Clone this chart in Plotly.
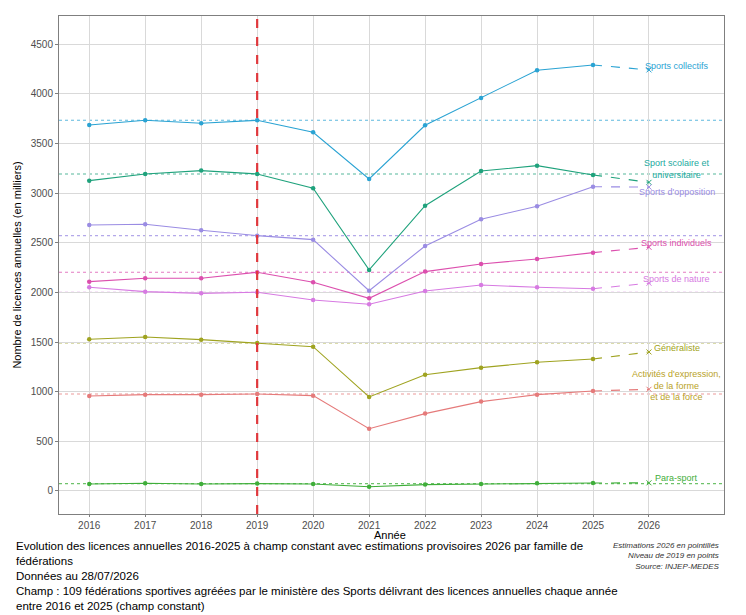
import plotly.graph_objects as go

YEARS = [2016, 2017, 2018, 2019, 2020, 2021, 2022, 2023, 2024, 2025]
EST_YEAR = 2026
REF_YEAR = 2019

# licences annuelles en milliers, 2016-2025
SPORTS_COLLECTIFS = [3686, 3733, 3703, 3733, 3612, 3142, 3683, 3958, 4237, 4290]
SPORT_SCOLAIRE = [3125, 3192, 3226, 3192, 3048, 2226, 2873, 3222, 3276, 3182]
SPORTS_OPPOSITION = [2679, 2686, 2625, 2571, 2531, 2017, 2467, 2736, 2867, 3064]
SPORTS_INDIVIDUELS = [2108, 2142, 2142, 2202, 2101, 1940, 2209, 2286, 2336, 2400]
SPORTS_NATURE = [2051, 2007, 1990, 2001, 1923, 1880, 2014, 2074, 2051, 2037]
GENERALISTE = [1528, 1551, 1524, 1490, 1453, 947, 1171, 1242, 1296, 1329]
ACTIVITES_FORME = [957, 970, 970, 977, 960, 627, 779, 900, 970, 1007]
PARA_SPORT = [70, 77, 70, 74, 70, 43, 64, 70, 77, 80]

# estimations provisoires 2026
ESTIMATIONS_2026 = {
    "Sports collectifs": 4240,
    "Sport scolaire et universitaire": 3108,
    "Sports d'opposition": 3060,
    "Sports individuels": 2454,
    "Sports de nature": 2092,
    "Généraliste": 1400,
    "Activités d'expression, de la forme et de la force": 1024,
    "Para-sport": 82,
}

SERIES = {
    "Sports collectifs": SPORTS_COLLECTIFS,
    "Sport scolaire et universitaire": SPORT_SCOLAIRE,
    "Sports d'opposition": SPORTS_OPPOSITION,
    "Sports individuels": SPORTS_INDIVIDUELS,
    "Sports de nature": SPORTS_NATURE,
    "Généraliste": GENERALISTE,
    "Activités d'expression, de la forme et de la force": ACTIVITES_FORME,
    "Para-sport": PARA_SPORT,
}

# style: line colour, label colour, label text, label y
STYLE = {
    "Sports collectifs": ("#2aa3d3", "#2aa3d3", "Sports collectifs", 4280),
    "Sport scolaire et universitaire": ("#1fa27c", "#24aaa0", "Sport scolaire et<br>universitaire", 3242),
    "Sports d'opposition": ("#9a8ce3", "#9a8ce3", "Sports d'opposition", 3010),
    "Sports individuels": ("#dc4fae", "#dc4fae", "Sports individuels", 2497),
    "Sports de nature": ("#d77ae2", "#d77ae2", "Sports de nature", 2134),
    "Généraliste": ("#9fa320", "#9fa320", "Généraliste", 1440),
    "Activités d'expression, de la forme et de la force": (
        "#e57a7a", "#b9a227", "Activités d'expression,<br>de la forme<br>et de la force", 1067),
    "Para-sport": ("#3fae3a", "#3fae3a", "Para-sport", 131),
}

FONT = "Liberation Sans, Arial, sans-serif"
CAPTION_FONT = "Liberation Sans Narrow, Liberation Sans, Arial, sans-serif"

fig = go.Figure()
shapes = []
annotations = []

for name, values in SERIES.items():
    color, label_color, label, label_y = STYLE[name]
    ref_value = values[YEARS.index(REF_YEAR)]

    # niveau 2019 en points
    shapes.append(dict(
        type="line", xref="paper", x0=0, x1=1, yref="y", y0=ref_value, y1=ref_value,
        line=dict(color=color, width=1.1, dash="dot"), opacity=0.75, layer="below",
    ))

    fig.add_trace(go.Scatter(
        x=YEARS, y=values, mode="lines+markers", name=name,
        line=dict(color=color, width=1.1),
        marker=dict(color=color, size=4.5),
        showlegend=False,
    ))
    fig.add_trace(go.Scatter(
        x=[YEARS[-1], EST_YEAR], y=[values[-1], ESTIMATIONS_2026[name]],
        mode="lines", line=dict(color=color, width=1.1, dash="dash"),
        showlegend=False,
    ))
    fig.add_trace(go.Scatter(
        x=[EST_YEAR], y=[ESTIMATIONS_2026[name]], mode="markers",
        marker=dict(color=color, size=5, symbol="x-thin", line=dict(color=color, width=1)),
        showlegend=False,
    ))

    annotations.append(dict(
        x=EST_YEAR + 0.5, y=label_y, xref="x", yref="y", text=label,
        showarrow=False, font=dict(family=FONT, size=9, color=label_color),
        align="center",
    ))

shapes.append(dict(
    type="line", xref="x", x0=REF_YEAR, x1=REF_YEAR, yref="paper", y0=0, y1=1,
    line=dict(color="#e0383c", width=2.2, dash="dash"),
))

# x axis title placed by hand so it sits tight under the tick labels
annotations.append(dict(
    x=0.498, y=0, xref="paper", yref="paper", yshift=-13, xanchor="center", yanchor="top",
    text="Année", showarrow=False, font=dict(family=FONT, size=11, color="black"),
))

CAPTION = (
    "Evolution des licences annuelles 2016-2025 à champ constant avec estimations provisoires 2026 par famille de<br>"
    "fédérations<br>"
    "Données au 28/07/2026<br>"
    "Champ : 109 fédérations sportives agréées par le ministère des Sports délivrant des licences annuelles chaque année<br>"
    "entre 2016 et 2025 (champ constant)"
)
annotations.append(dict(
    x=-0.068, y=0, xref="paper", yref="paper", yshift=-24, xanchor="left", yanchor="top",
    text=CAPTION, showarrow=False, align="left",
    font=dict(family=CAPTION_FONT, size=11.5, color="black"),
))
annotations.append(dict(
    x=0.997, y=0, xref="paper", yref="paper", yshift=-25, xanchor="right", yanchor="top",
    text="<i>Estimations 2026 en pointillés<br>Niveau de 2019 en points<br>Source: INJEP-MEDES</i>",
    showarrow=False, align="right",
    font=dict(family=FONT, size=8, color="#333333"),
))

fig.update_layout(
    width=738,
    height=607,
    margin=dict(l=51, r=22, t=8, b=101),
    plot_bgcolor="white",
    paper_bgcolor="white",
    font=dict(family=FONT),
    shapes=shapes,
    annotations=annotations,
    xaxis=dict(
        range=[2015.46, 2027.34],
        tickvals=YEARS + [EST_YEAR],
        tickfont=dict(size=10, color="#4d4d4d"),
        showgrid=True, gridcolor="#d9d9d9", gridwidth=1,
        zeroline=False,
        ticks="outside", ticklen=2, tickcolor="#7f7f7f",
        showline=True, linecolor="#7f7f7f", linewidth=1, mirror=True,
    ),
    yaxis=dict(
        title=dict(text="Nombre de licences annuelles (en milliers)", font=dict(size=11, color="black"), standoff=6),
        range=[-232, 4783],
        tickvals=[0, 500, 1000, 1500, 2000, 2500, 3000, 3500, 4000, 4500],
        tickfont=dict(size=10, color="#4d4d4d"),
        showgrid=True, gridcolor="#d9d9d9", gridwidth=1,
        zeroline=False,
        ticks="outside", ticklen=3, tickcolor="#7f7f7f",
        showline=True, linecolor="#7f7f7f", linewidth=1, mirror=True,
    ),
)

fig.write_html("out.html")
